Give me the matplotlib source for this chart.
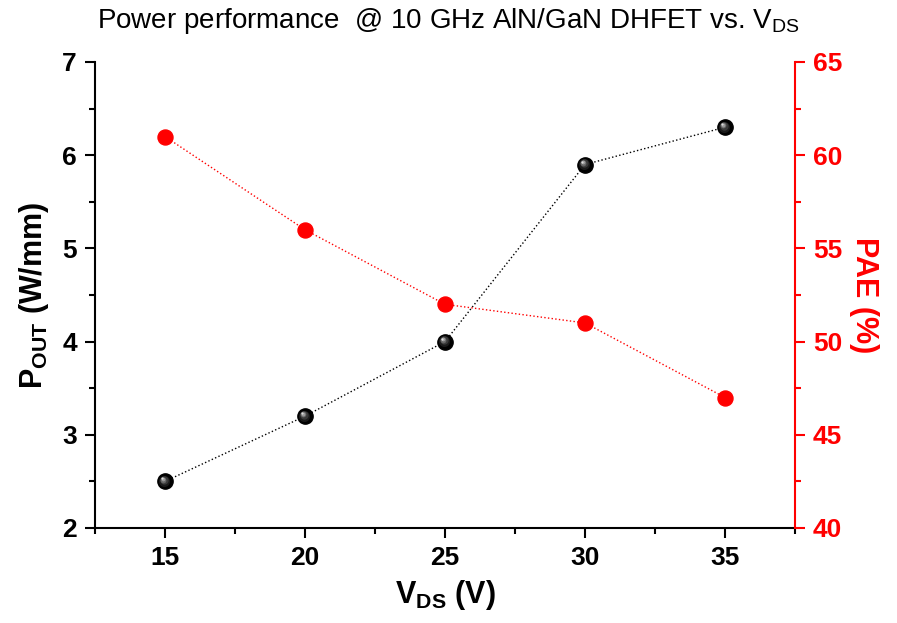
import matplotlib
matplotlib.use('Agg')
import matplotlib.pyplot as plt
import matplotlib.transforms as mtransforms

plt.rcParams['font.family'] = ['Liberation Sans', 'DejaVu Sans']
plt.rcParams['mathtext.fontset'] = 'custom'
plt.rcParams['mathtext.rm'] = 'Liberation Sans'
plt.rcParams['mathtext.it'] = 'Liberation Sans:italic'
plt.rcParams['mathtext.bf'] = 'Liberation Sans:bold'

vds = [15, 20, 25, 30, 35]
pout = [2.5, 3.2, 4.0, 5.9, 6.3]
pae = [61, 56, 52, 51, 47]

fig = plt.figure(figsize=(8.97, 6.23), dpi=100)
ax = fig.add_axes([0.1059, 0.1525, 0.7804, 0.748])
ax2 = ax.twinx()

# PAE on the right axis (red)
ax2.plot(vds, pae, linestyle=':', color='red', linewidth=1,
         marker='o', markersize=10.8, markerfacecolor='red', markeredgecolor='red')

# POUT as shaded black spheres
ax.plot(vds, pout, linestyle=':', color='black', linewidth=1, zorder=2)
ax.plot(vds, pout, linestyle='none', marker='o', markersize=11,
        markerfacecolor='black', markeredgecolor='black', zorder=3)
shades = [(8.0, '#1a1a1a'), (6.0, '#3a3a3a'), (4.2, '#666666'), (2.8, '#999999'), (1.6, '#dddddd')]
for i, (ms, c) in enumerate(shades):
    off = mtransforms.ScaledTranslation(-0.012 * (i + 1) / 2, 0.012 * (i + 1) / 2, fig.dpi_scale_trans)
    ax.plot(vds, pout, linestyle='none', marker='o', markersize=ms,
            markerfacecolor=c, markeredgecolor='none', zorder=4,
            transform=ax.transData + off)

ax.set_xlim(12.5, 37.5)
ax.set_ylim(2, 7)
ax2.set_ylim(40, 65)
ax.set_xticks([15, 20, 25, 30, 35])
ax.set_xticks([12.5, 17.5, 22.5, 27.5, 32.5, 37.5], minor=True)
ax.set_yticks([2, 3, 4, 5, 6, 7])
ax.set_yticks([2.5, 3.5, 4.5, 5.5, 6.5], minor=True)
ax2.set_yticks([40, 45, 50, 55, 60, 65])
ax2.set_yticks([42.5, 47.5, 52.5, 57.5, 62.5], minor=True)

for a in (ax, ax2):
    a.spines['top'].set_visible(False)
    for s in a.spines.values():
        s.set_linewidth(1.5)
ax.spines['right'].set_visible(False)
ax2.spines['left'].set_visible(False)
ax2.spines['bottom'].set_visible(False)
ax2.spines['right'].set_color('red')

ax.tick_params(axis='both', which='major', direction='out', length=7, width=1.5, labelsize=19, pad=6)
ax.tick_params(axis='both', which='minor', direction='out', length=4, width=1.5)
ax2.tick_params(axis='y', which='major', direction='out', length=7, width=1.5, labelsize=19,
                colors='red', pad=6)
ax2.tick_params(axis='y', which='minor', direction='out', length=4, width=1.5, colors='red')
for lbl in ax.get_xticklabels() + ax.get_yticklabels() + ax2.get_yticklabels():
    lbl.set_fontweight('bold')

ax.set_xlabel(r'$\mathbf{V_{DS}}$ (V)', fontsize=22, fontweight='bold', labelpad=6)
ax.set_ylabel(r'$\mathbf{P_{OUT}}$ (W/mm)', fontsize=22, fontweight='bold', labelpad=8)
ax2.set_ylabel('PAE (%)', fontsize=22, fontweight='bold', color='red', rotation=270, labelpad=26)

fig.suptitle(r'Power performance  @ 10 GHz AlN/GaN DHFET vs. V$_\mathrm{DS}$',
             fontsize=20, x=0.5, y=0.99)

fig.savefig('out.png', dpi=100)
